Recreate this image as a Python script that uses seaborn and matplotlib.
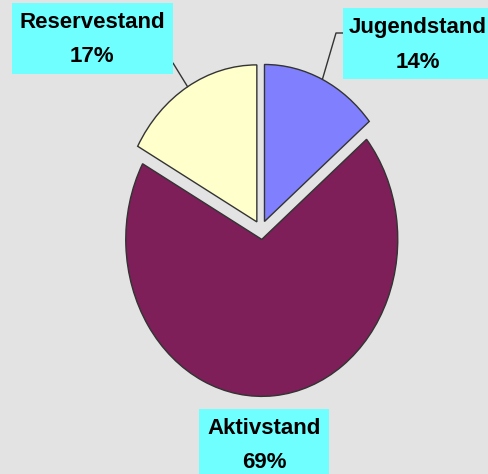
import numpy as np
import matplotlib
matplotlib.use("Agg")
import matplotlib.pyplot as plt
import seaborn as sns
from matplotlib.patches import Rectangle

# Daten
labels = ["Jugendstand", "Aktivstand", "Reservestand"]
values = [14, 69, 17]
colors = ["#8080FF", "#7E1F5A", "#FFFFCC"]

sns.set_style("white")
plt.rcParams["font.family"] = ["Liberation Sans", "DejaVu Sans"]

W, H = 489, 474
CX, CY = 261, 230      # Mittelpunkt des Kuchens in Pixel
RX, RY = 136, 157      # Radien in Pixel (Ellipse)

fig = plt.figure(figsize=(W / 100, H / 100), dpi=100)
fig.patch.set_facecolor("#E3E3E3")
ax = fig.add_axes([0, 0, 1, 1])
ax.set_facecolor("#E3E3E3")


def px(x, y):
    # Pixel (von oben links) -> Datenkoordinaten
    return (x - CX) / RX, (CY - y) / RY


wedges, _ = ax.pie(values, colors=colors, startangle=90, counterclock=False,
                   explode=[0.06, 0.06, 0.06],
                   wedgeprops=dict(edgecolor="#333333", linewidth=1.0))
ax.set_aspect("auto")
ax.set_xlim(px(0, 0)[0], px(W, 0)[0])
ax.set_ylim(px(0, H)[1], px(0, 0)[1])
ax.axis("off")

# Beschriftungsboxen (Pixel: links, oben, rechts, unten) und Textmitte
boxes = {
    "Jugendstand": ((343, 8, 495, 79), 418),
    "Aktivstand": ((199, 409, 329, 480), 264),
    "Reservestand": ((12, 3, 173, 74), 92),
}

for lab, val in zip(labels, values):
    (l, t, r, b), tx = boxes[lab]
    x0, y0 = px(l, b)
    x1, y1 = px(r, t)
    ax.add_patch(Rectangle((x0, y0), x1 - x0, y1 - y0, facecolor="#6FFFFF",
                           edgecolor="none", zorder=3, clip_on=False))
    ax.text(*px(tx, t + 20), lab, ha="center", va="center", fontsize=16,
            fontweight="bold", color="black", zorder=4)
    ax.text(*px(tx, t + 54), f"{val}%", ha="center", va="center", fontsize=16,
            fontweight="bold", color="black", zorder=4)

# Führungslinien zum Bogen der Segmente
for w, lab in zip(wedges, labels):
    if lab == "Aktivstand":
        continue
    ang = np.deg2rad((w.theta1 + w.theta2) / 2)
    cx, cy = w.center
    ex, ey = cx + np.cos(ang), cy + np.sin(ang)
    if lab == "Reservestand":
        pts = [px(173, 63), (ex, ey)]
    else:
        pts = [px(343, 33), px(336, 33), (ex, ey)]
    xs, ys = zip(*pts)
    ax.plot(xs, ys, color="#333333", linewidth=1.0, zorder=2)

plt.savefig("out.png", dpi=100, facecolor=fig.get_facecolor())
